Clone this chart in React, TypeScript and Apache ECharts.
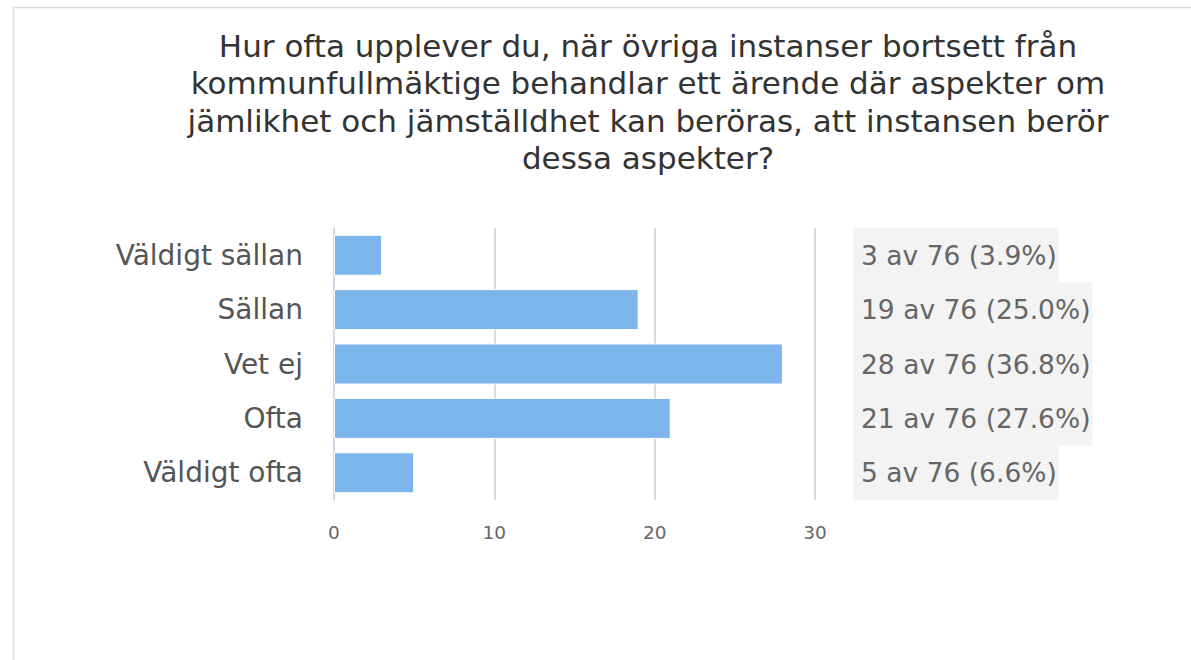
import React, { useEffect, useRef } from "react";
import * as echarts from "echarts";

const TITLE_LINES = [
  "Hur ofta upplever du, när övriga instanser bortsett från",
  "kommunfullmäktige behandlar ett ärende där aspekter om",
  "jämlikhet och jämställdhet kan beröras, att instansen berör",
  "dessa aspekter?",
];
const CATEGORIES = ["Väldigt sällan", "Sällan", "Vet ej", "Ofta", "Väldigt ofta"];
const COUNTS = [3, 19, 28, 21, 5];
const TOTAL = 76;
const X_MIN = 0;
const X_MAX = 30;
const X_INTERVAL = 10;

const FONT = "'DejaVu Sans', 'Noto Sans', sans-serif";

export default function App() {
  const ref = useRef<HTMLDivElement>(null);
  useEffect(() => {
    if (!ref.current) return;
    const chart = echarts.init(ref.current, undefined, { renderer: "svg" });
    const rightLabels = COUNTS.map(
      (c) => `${c} av ${TOTAL} (${((c / TOTAL) * 100).toFixed(1)}%)`
    );
    chart.setOption({
      animation: false,
      backgroundColor: "#ffffff",
      title: {
        text: TITLE_LINES.join("\n"),
        left: 643,
        top: 22,
        textAlign: "center",
        textStyle: {
          fontFamily: FONT,
          fontSize: 31,
          fontWeight: "normal",
          color: "#333333",
          lineHeight: 37.5,
        },
      },
      graphic: [
        {
          type: "rect",
          shape: { x: 13.5, y: 7.5, width: 1300, height: 800 },
          style: { fill: "none", stroke: "#dddddd", lineWidth: 1.5 },
          silent: true,
        },
      ],
      grid: { left: 334, right: 1191 - 815, top: 228, bottom: 660 - 500, containLabel: false },
      xAxis: {
        type: "value",
        min: X_MIN,
        max: X_MAX,
        interval: X_INTERVAL,
        axisLine: { show: false },
        axisTick: { show: false },
        splitLine: { show: true, lineStyle: { color: "#cccccc", width: 1.5 } },
        axisLabel: { color: "#666666", fontSize: 18.5, fontFamily: FONT, margin: 23 },
      },
      yAxis: [
        {
          type: "category",
          data: CATEGORIES,
          inverse: true,
          axisLine: { show: true, lineStyle: { color: "#ccd6eb", width: 1.5 } },
          axisTick: { show: false },
          axisLabel: { color: "#555555", fontSize: 28, fontFamily: FONT, margin: 31 },
        },
        {
          type: "category",
          data: rightLabels,
          inverse: true,
          position: "right",
          axisLine: { show: false },
          axisTick: { show: false },
          axisLabel: {
            color: "#666666",
            fontSize: 26.5,
            fontFamily: FONT,
            margin: 38,
            backgroundColor: "#f3f3f3",
            lineHeight: 54.4,
            padding: [0, 2, 0, 8],
          },
        },
      ],
      series: [
        {
          type: "bar",
          data: COUNTS,
          barWidth: 41,
          itemStyle: { color: "#7cb5ec", borderColor: "#ffffff", borderWidth: 1 },
        },
      ],
    });
    return () => chart.dispose();
  }, []);
  return (
    <div
      ref={ref}
      style={{ position: "absolute", left: 0, top: 0, width: 1191, height: 660 }}
    />
  );
}
